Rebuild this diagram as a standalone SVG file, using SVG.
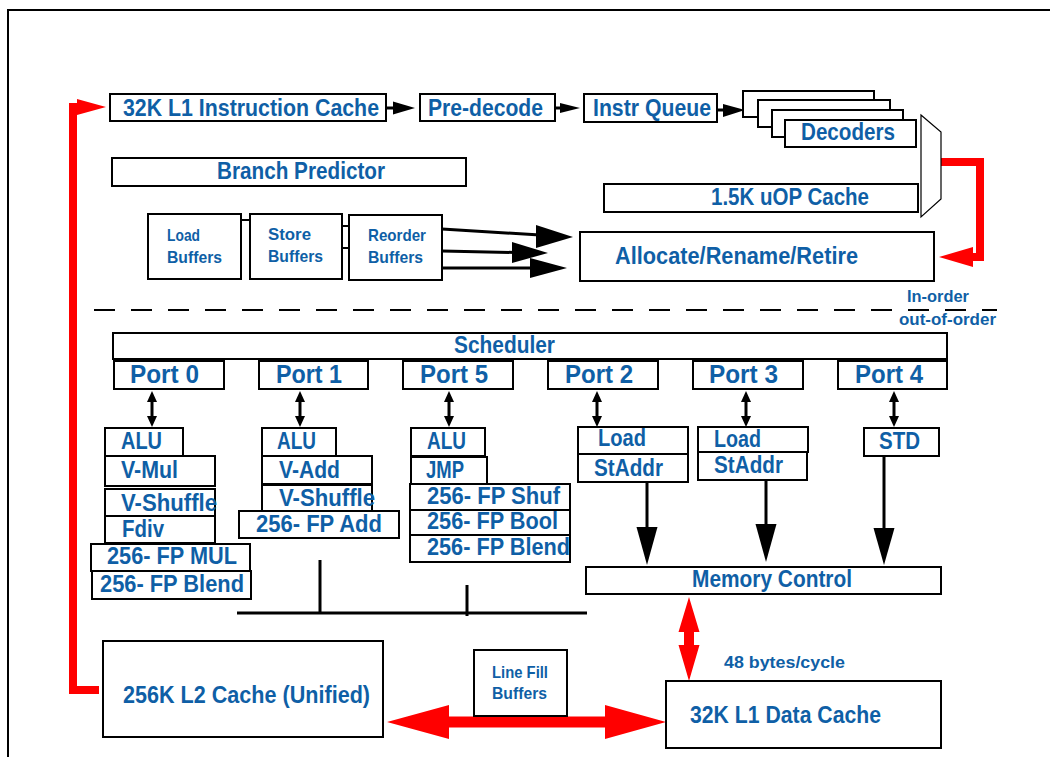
<svg xmlns="http://www.w3.org/2000/svg" width="1050" height="757" viewBox="0 0 1050 757">
<style>
.box{fill:#fff;stroke:#000;stroke-width:2}
.t{font-family:"Liberation Sans",Arial,sans-serif;font-weight:bold;font-size:23px;fill:#0F5FA6}
.p{font-size:25px}
.u{font-size:24px}
.s{font-size:17px}
.k{stroke:#000;stroke-width:3;fill:none}
.kh{fill:#000}
.r{stroke:#f00;stroke-width:8;fill:none;stroke-linejoin:miter}
.rh{fill:#f00}
</style>
<rect width="1050" height="757" fill="#fff"/>
<path d="M8 757 V10 H1050" fill="none" stroke="#000" stroke-width="2"/>

<g id="connectors">
  <line x1="386" y1="108" x2="395" y2="108" class="k"/>
  <polygon class="kh" points="393,101.5 415,108 393,114.5"/>
  <line x1="555" y1="108" x2="562" y2="108" class="k"/>
  <polygon class="kh" points="560,103 580,108 560,113"/>
  <line x1="717" y1="110" x2="725" y2="110" class="k"/>
  <polygon class="kh" points="723,104 745,110 723,117"/>
  <line x1="241" y1="220" x2="250" y2="220" stroke="#000" stroke-width="2"/>
  <line x1="342" y1="226" x2="349" y2="226" stroke="#000" stroke-width="2"/>
  <line x1="342" y1="248" x2="349" y2="248" stroke="#000" stroke-width="2"/>
  <line x1="442" y1="229" x2="540" y2="235" class="k"/>
  <polygon class="kh" points="536,225 573,237 536,248"/>
  <line x1="442" y1="251" x2="515" y2="252.5" class="k"/>
  <polygon class="kh" points="512,242 548,253 512,263"/>
  <line x1="442" y1="268" x2="533" y2="268" class="k"/>
  <polygon class="kh" points="530,258 567,268 530,278"/>
  <path class="r" d="M939 162 H980 V257 H972"/>
  <polygon class="rh" points="939,257 973,247 973,267"/>
  <path class="r" d="M99 690 H73 V107 H80"/>
  <polygon class="rh" points="77,99 106,107 77,115"/>
  <line x1="94" y1="310" x2="997" y2="310" stroke="#000" stroke-width="2" stroke-dasharray="21 16"/>
  <g id="port-arrows">
    <line x1="152" y1="400" x2="152" y2="418" class="k"/>
    <polygon class="kh" points="152,391 157,402 147,402"/>
    <polygon class="kh" points="152,427 157,416 147,416"/>
    <line x1="300" y1="400" x2="300" y2="418" class="k"/>
    <polygon class="kh" points="300,391 305,402 295,402"/>
    <polygon class="kh" points="300,427 305,416 295,416"/>
    <line x1="449" y1="400" x2="449" y2="418" class="k"/>
    <polygon class="kh" points="449,391 454,402 444,402"/>
    <polygon class="kh" points="449,427 454,416 444,416"/>
    <line x1="597" y1="400" x2="597" y2="418" class="k"/>
    <polygon class="kh" points="597,391 602,402 592,402"/>
    <polygon class="kh" points="597,427 602,416 592,416"/>
    <line x1="746" y1="400" x2="746" y2="418" class="k"/>
    <polygon class="kh" points="746,391 751,402 741,402"/>
    <polygon class="kh" points="746,427 751,416 741,416"/>
    <line x1="894" y1="400" x2="894" y2="418" class="k"/>
    <polygon class="kh" points="894,391 899,402 889,402"/>
    <polygon class="kh" points="894,427 899,416 889,416"/>
  </g>
  <line x1="647" y1="482" x2="647" y2="530" class="k"/>
  <polygon class="kh" points="636.5,527 657.5,527 647,565"/>
  <line x1="766" y1="480" x2="766" y2="527" class="k"/>
  <polygon class="kh" points="755.5,524 776.5,524 766,562"/>
  <line x1="884" y1="456" x2="884" y2="531" class="k"/>
  <polygon class="kh" points="873.5,528 894.5,528 884,565"/>
  <line x1="237" y1="613" x2="587" y2="613" class="k"/>
  <line x1="320" y1="560" x2="320" y2="613" class="k"/>
  <line x1="467" y1="585" x2="467" y2="616" class="k"/>
  <polygon class="rh" points="689,597 699.5,632 694,632 694,645 699.5,645 689,681 678.5,645 684,645 684,632 678.5,632"/>
  <polygon class="rh" points="387,722 449,705 449,716.5 605,716.5 605,705 666,722 605,739 605,727.5 449,727.5 449,739"/>
</g>

<g id="l1i"><rect class="box" x="110" y="94" width="276" height="27"/><text class="t" x="123" y="116" textLength="256" lengthAdjust="spacingAndGlyphs">32K L1 Instruction Cache</text></g>
<g id="predecode"><rect class="box" x="420" y="94" width="135" height="27"/><text class="t" x="428" y="116" textLength="115" lengthAdjust="spacingAndGlyphs">Pre-decode</text></g>
<g id="instr-queue"><rect class="box" x="584" y="94" width="133" height="28"/><text class="t" x="593" y="116" textLength="118" lengthAdjust="spacingAndGlyphs">Instr Queue</text></g>
<g id="decoders">
  <rect class="box" x="743" y="91" width="131" height="26"/>
  <rect class="box" x="758" y="100" width="132" height="27"/>
  <rect class="box" x="772" y="110" width="131" height="27"/>
  <rect class="box" x="785" y="120" width="131" height="27"/>
  <text class="t" x="801" y="140" textLength="94" lengthAdjust="spacingAndGlyphs">Decoders</text>
</g>
<g id="mux"><polygon points="921,115 941,132 941,199 921,217" fill="#fff" stroke="#000" stroke-width="1.2"/></g>
<g id="branch-predictor"><rect class="box" x="112" y="158" width="354" height="28"/><text class="t" x="217" y="179" textLength="168" lengthAdjust="spacingAndGlyphs">Branch Predictor</text></g>
<g id="uop-cache"><rect class="box" x="604" y="184" width="314" height="28"/><text class="t" x="711" y="205" textLength="158" lengthAdjust="spacingAndGlyphs">1.5K uOP Cache</text></g>
<g id="load-buffers"><rect class="box" x="148" y="214" width="93" height="65"/><text class="t s" x="167" y="241" textLength="33" lengthAdjust="spacingAndGlyphs">Load</text><text class="t s" x="167" y="263" textLength="55" lengthAdjust="spacingAndGlyphs">Buffers</text></g>
<g id="store-buffers"><rect class="box" x="250" y="214" width="92" height="65"/><text class="t s" x="268" y="240" textLength="43" lengthAdjust="spacingAndGlyphs">Store</text><text class="t s" x="268" y="262" textLength="55" lengthAdjust="spacingAndGlyphs">Buffers</text></g>
<g id="reorder-buffers"><rect class="box" x="349" y="215" width="93" height="65"/><text class="t s" x="368" y="241" textLength="58" lengthAdjust="spacingAndGlyphs">Reorder</text><text class="t s" x="368" y="263" textLength="55" lengthAdjust="spacingAndGlyphs">Buffers</text></g>
<g id="allocate"><rect class="box" x="580" y="232" width="354" height="49"/><text class="t" x="615" y="264" textLength="243" lengthAdjust="spacingAndGlyphs">Allocate/Rename/Retire</text></g>
<g id="order-labels"><text class="t" style="font-size:16px" x="907" y="302" textLength="62" lengthAdjust="spacingAndGlyphs">In-order</text><text class="t" style="font-size:16px" x="899" y="325" textLength="97" lengthAdjust="spacingAndGlyphs">out-of-order</text></g>

<g id="scheduler"><rect class="box" x="113" y="333" width="834" height="26"/><text class="t" x="454" y="353" textLength="101" lengthAdjust="spacingAndGlyphs">Scheduler</text></g>
<g id="port0"><rect class="box" x="114" y="361" width="110" height="28"/><text class="t p" x="130" y="383" textLength="69" lengthAdjust="spacingAndGlyphs">Port 0</text></g>
<g id="port1"><rect class="box" x="259" y="361" width="109" height="28"/><text class="t p" x="276" y="383" textLength="66" lengthAdjust="spacingAndGlyphs">Port 1</text></g>
<g id="port5"><rect class="box" x="403" y="361" width="110" height="28"/><text class="t p" x="420" y="383" textLength="68" lengthAdjust="spacingAndGlyphs">Port 5</text></g>
<g id="port2"><rect class="box" x="548" y="361" width="110" height="28"/><text class="t p" x="565" y="383" textLength="68" lengthAdjust="spacingAndGlyphs">Port 2</text></g>
<g id="port3"><rect class="box" x="693" y="361" width="110" height="28"/><text class="t p" x="709" y="383" textLength="69" lengthAdjust="spacingAndGlyphs">Port 3</text></g>
<g id="port4"><rect class="box" x="838" y="361" width="109" height="28"/><text class="t p" x="855" y="383" textLength="68" lengthAdjust="spacingAndGlyphs">Port 4</text></g>

<g id="port0-units">
  <rect class="box" x="105" y="428" width="78" height="28"/><text class="t u" x="121" y="449" textLength="41" lengthAdjust="spacingAndGlyphs">ALU</text>
  <rect class="box" x="105" y="456" width="110" height="30"/><text class="t u" x="121" y="478" textLength="57" lengthAdjust="spacingAndGlyphs">V-Mul</text>
  <rect class="box" x="105" y="489" width="110" height="27"/><text class="t u" x="121" y="511" textLength="96" lengthAdjust="spacingAndGlyphs">V-Shuffle</text>
  <rect class="box" x="105" y="516" width="110" height="27"/><text class="t u" x="122" y="537" textLength="42" lengthAdjust="spacingAndGlyphs">Fdiv</text>
  <rect class="box" x="91" y="544" width="159" height="27"/><text class="t u" x="107" y="564" textLength="130" lengthAdjust="spacingAndGlyphs">256- FP MUL</text>
  <rect class="box" x="92" y="571" width="159" height="28"/><text class="t u" x="100" y="592" textLength="144" lengthAdjust="spacingAndGlyphs">256- FP Blend</text>
</g>
<g id="port1-units">
  <rect class="box" x="262" y="428" width="74" height="28"/><text class="t u" x="277" y="449" textLength="39" lengthAdjust="spacingAndGlyphs">ALU</text>
  <rect class="box" x="262" y="456" width="110" height="28"/><text class="t u" x="279" y="478" textLength="61" lengthAdjust="spacingAndGlyphs">V-Add</text>
  <rect class="box" x="262" y="485" width="110" height="26"/><text class="t u" x="279" y="506" textLength="96" lengthAdjust="spacingAndGlyphs">V-Shuffle</text>
  <rect class="box" x="239" y="511" width="160" height="27"/><text class="t u" x="256" y="532" textLength="126" lengthAdjust="spacingAndGlyphs">256- FP Add</text>
</g>
<g id="port5-units">
  <rect class="box" x="411" y="428" width="74" height="28"/><text class="t u" x="427" y="449" textLength="39" lengthAdjust="spacingAndGlyphs">ALU</text>
  <rect class="box" x="411" y="457" width="76" height="27"/><text class="t u" x="426" y="478" textLength="38" lengthAdjust="spacingAndGlyphs">JMP</text>
  <rect class="box" x="410" y="484" width="160" height="26"/><text class="t u" x="427" y="504" textLength="133" lengthAdjust="spacingAndGlyphs">256- FP Shuf</text>
  <rect class="box" x="410" y="510" width="160" height="25"/><text class="t u" x="427" y="529" textLength="131" lengthAdjust="spacingAndGlyphs">256- FP Bool</text>
  <rect class="box" x="410" y="535" width="160" height="27"/><text class="t u" x="427" y="555" textLength="143" lengthAdjust="spacingAndGlyphs">256- FP Blend</text>
</g>
<g id="port2-units">
  <rect class="box" x="578" y="427" width="110" height="27"/><text class="t u" x="598" y="446" textLength="48" lengthAdjust="spacingAndGlyphs">Load</text>
  <rect class="box" x="578" y="454" width="110" height="28"/><text class="t u" x="594" y="476" textLength="69" lengthAdjust="spacingAndGlyphs">StAddr</text>
</g>
<g id="port3-units">
  <rect class="box" x="698" y="427" width="110" height="25"/><text class="t u" x="714" y="447" textLength="47" lengthAdjust="spacingAndGlyphs">Load</text>
  <rect class="box" x="698" y="452" width="109" height="28"/><text class="t u" x="714" y="473" textLength="69" lengthAdjust="spacingAndGlyphs">StAddr</text>
</g>
<g id="port4-units">
  <rect class="box" x="864" y="428" width="75" height="28"/><text class="t u" x="879" y="449" textLength="41" lengthAdjust="spacingAndGlyphs">STD</text>
</g>
<g id="memory-control"><rect class="box" x="586" y="567" width="355" height="27"/><text class="t" x="692" y="587" textLength="160" lengthAdjust="spacingAndGlyphs">Memory Control</text></g>
<g id="l2"><rect class="box" x="103" y="641" width="280" height="96"/><text class="t" x="123" y="703" textLength="247" lengthAdjust="spacingAndGlyphs">256K L2 Cache (Unified)</text></g>
<g id="line-fill-buffers"><rect class="box" x="474" y="650" width="93" height="66"/><text class="t s" x="492" y="678" textLength="56" lengthAdjust="spacingAndGlyphs">Line Fill</text><text class="t s" x="492" y="699" textLength="55" lengthAdjust="spacingAndGlyphs">Buffers</text></g>
<g id="bandwidth-label"><text class="t s" x="724" y="668" textLength="121" lengthAdjust="spacingAndGlyphs">48 bytes/cycle</text></g>
<g id="l1d"><rect class="box" x="666" y="681" width="275" height="67"/><text class="t" x="690" y="723" textLength="191" lengthAdjust="spacingAndGlyphs">32K L1 Data Cache</text></g>
</svg>
